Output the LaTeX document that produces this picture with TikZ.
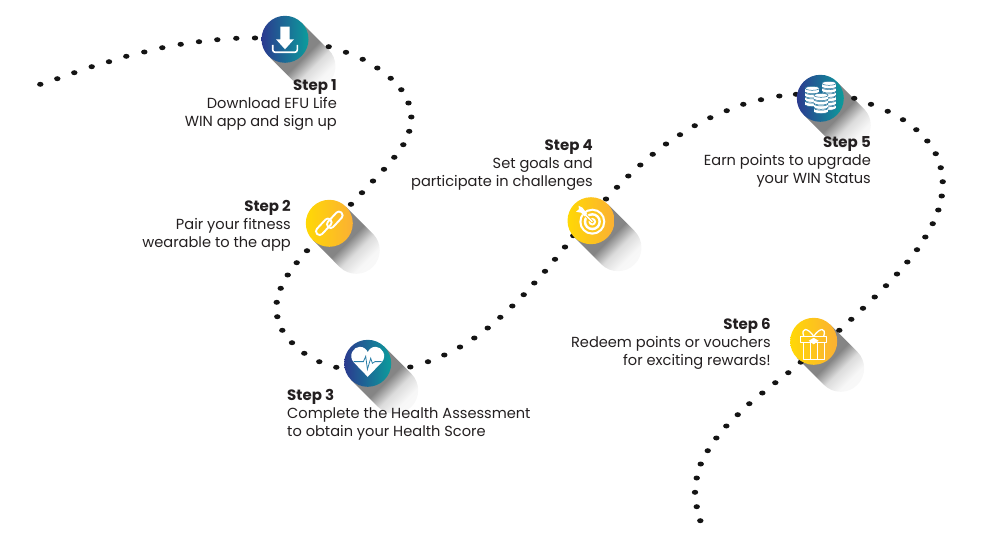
\documentclass[tikz,border=0pt]{standalone}
\usepackage{fontspec}
\setmainfont{Poppins}
\definecolor{inktext}{HTML}{231F20}
\definecolor{blueleft}{HTML}{2B3A8F}
\definecolor{tealright}{HTML}{0C9C9C}
\definecolor{yellowleft}{HTML}{FFD805}
\definecolor{yellowright}{HTML}{FBB034}
\definecolor{yellowmid}{HTML}{FDC61C}
\definecolor{ecgline}{HTML}{2A7FA8}
\definecolor{coinseam}{HTML}{1C6F98}
\pgfdeclareverticalshading{longshadow}{100bp}{color(0bp)=(black!2); color(30bp)=(black!3); color(40bp)=(black!14); color(50bp)=(black!48); color(100bp)=(black!48)}
\newcommand{\stephead}[1]{{\fontsize{15}{18}\selectfont\textbf{#1}}}
\tikzset{
  bluedisc/.style={circle,minimum size=47pt,inner sep=0pt,left color=blueleft,right color=tealright},
  yellowdisc/.style={circle,minimum size=47pt,inner sep=0pt,left color=yellowleft,right color=yellowright},
  steptext/.style={inner sep=0pt,text=inktext,font=\fontsize{14.6}{18}\selectfont},
  icon/.style={white,line width=1.6pt}
}
\begin{document}
\begin{tikzpicture}[x=1pt,y=-1pt]
\useasboundingbox (0,0) rectangle (1000,543);

% long shadows
\foreach \x/\y in {285/39.3,329.3/223.3,367.7/363.3,591/220.7,820.3/98.3,813.7/341.3} {
\shade[shading=longshadow,shading angle=45,draw=none]
  (\x+16.6,\y-16.6) -- (\x+43.6,\y+10.4)
  arc[start angle=45,end angle=-135,radius=23.5pt]
  -- (\x-16.6,\y+16.6) -- cycle;
}

% dotted trail
\foreach \x/\y in {40.3/84.3,57.3/78.7,74.3/72.7,91.7/66.7,109/61.7,126.3/56.3,144.3/52,162.3/47.7,180.7/44.3,199/41.7,217.3/39.7,236.3/38.3,255/38,
328.7/46.7,346/52.3,362.7/59.3,377.3/68,390.7/78.3,401.3/89.7,408.5/103,411.3/117,409.2/131.3,403.3/144.7,394.3/157.3,384/169.3,373/181,362/192.7,351/204.3,
307/250.7,296.7/262.7,287.7/275,280.7/288.3,276.7/302.3,277.3/316.7,282.3/330.3,292/342.7,304.3/353.3,319.3/361.7,336.3/367.3,
410.3/367,428/361.7,444.3/355,460/347,474.3/338,487.7/328,500.3/317.3,512.3/306,523.7/294.7,534.3/283,545/271.3,555/259.3,565/247,573.3/235.7,
606/199,617/187.3,628.3/176,640.3/165,652.7/154.3,666/144,680/134.7,694.7/125.7,710.3/117.7,726.7/110.7,743.3/104.3,761/99.7,779.3/96,796/94.3,
854.2/98.3,871/104.3,887.7/111.3,903/119.7,916.3/129.7,927.3/141,935.7/153.7,940.7/167.7,942.7/181.7,941.7/196,938.3/210,932.7/223.7,925.3/237,917/249.7,907.3/262,897/274,886/285.7,874.7/297,863/308.3,851.3/319.3,839.3/330.3,
800.7/362.2,788.3/372.7,775.3/382.7,762.3/393,749.3/403.7,737.7/414.7,726.3/426,716.3/438,707.7/450.7,700.7/464,696.7/478,695/492.3,696.7/506.7,700.3/520.7} {
\fill[black!92] (\x,\y) ellipse (3.2pt and 2.5pt);
}

\node[bluedisc] (stepone) at (285,39.3) {};
\node[yellowdisc] (steptwo) at (329.3,223.3) {};
\node[bluedisc] (stepthree) at (367.7,363.3) {};
\node[yellowdisc] (stepfour) at (591,220.7) {};
\node[bluedisc] (stepfive) at (820.3,98.3) {};
\node[yellowdisc] (stepsix) at (813.7,341.3) {};

% download
\begin{scope}[shift={(stepone)}]
\fill[white] (-4.7,-12.7) -- (4.7,-12.7) -- (4.7,0) -- (9,0) -- (0,10) -- (-9,0) -- (-4.7,0) -- cycle;
\draw[icon,rounded corners=2.5pt] (-12.3,5.7) -- (-12.3,13) -- (12.3,13) -- (12.3,5.7);
\end{scope}

% chain
\begin{scope}[shift={(steptwo)}]
\foreach \a/\b/\c/\d in {1.5/1/9.5/-8,-9.5/8/-1.5/-1} {
\draw[white,line width=1.9pt,rounded corners=3.4pt] (\c+5.2,\d) -- (\c,\d-5.2) -- (\a-5.2,\b) -- (\a,\b+5.2) -- cycle;
}
\end{scope}

% heart
\begin{scope}[shift={(stepthree)}]
\fill[white] (0,13.5) -- (-14,-1) .. controls (-20,-8) and (-14,-16.5) .. (-8,-16.5) .. controls (-4,-16.5) and (-1,-14) .. (0,-11)
  .. controls (1,-14) and (4,-16.5) .. (8,-16.5) .. controls (14,-16.5) and (20,-8) .. (14,-1) -- cycle;
\draw[ecgline,line width=0.8pt] (-14,-1.7) -- (-4.3,-1.7) -- (-2,-7) -- (-0.3,6) -- (3,-5) -- (4.7,0) -- (7.3,-1.7) -- (14,-1.7);
\end{scope}

% target
\begin{scope}[shift={(stepfour)}]
\fill[white] (1.3,1) circle (13pt);
\fill[yellowmid] (1.3,1) circle (10.8pt);
\fill[white] (1.3,1) circle (8.6pt);
\fill[yellowmid] (1.3,1) circle (6pt);
\fill[white] (1.3,1) circle (3.8pt);
\fill[yellowmid] (1.3,1) circle (1.8pt);
\draw[yellowmid,line width=3pt] (1.3,1) -- (-9,-9.3);
\draw[white,line width=1.3pt] (1.3,1) -- (-9,-9.3);
\fill[white] (-6,-4) -- (-10,-8) -- (-15,-9) -- (-12,-11.5) -- (-12.5,-15) -- (-8.5,-13) -- (-4,-7) -- cycle;
\end{scope}

% coins
\begin{scope}[shift={(stepfive)}]
\foreach \x/\y/\n in {-8/-10/3,8.7/-15/5,0.7/-3/3} {
\foreach \k in {\n,...,0} {
\draw[coinseam,fill=white,line width=0.5pt] (\x,\y+\k*4.3+3.4) ellipse (7pt and 2pt);
\fill[white] (\x-7,\y+\k*4.3) rectangle (\x+7,\y+\k*4.3+3.4);
\draw[coinseam,fill=white,line width=0.5pt] (\x,\y+\k*4.3) ellipse (7pt and 2pt);
}
}
\end{scope}

% gift
\begin{scope}[shift={(stepsix)}]
\draw[icon,line width=1.3pt,line join=round] (-13,-5) -- (13,-5) -- (13,1.5) -- (-13,1.5) -- cycle;
\draw[icon,line width=1.3pt,line join=round] (-10.5,1.5) -- (-10.5,18.5) -- (10.5,18.5) -- (10.5,1.5);
\draw[icon,line width=1.3pt,line join=round] (-3.5,1.5) -- (-3.5,18.5) (3.5,1.5) -- (3.5,18.5);
\fill[white] (0,-3.5) -- (5,-0.5) -- (0,3) -- (-5,-0.5) -- cycle;
\draw[icon,line width=1.3pt,line join=round] (0,-5) .. controls (-6,-14) and (-13,-14) .. (-10,-5);
\draw[icon,line width=1.3pt,line join=round] (0,-5) .. controls (6,-14) and (13,-14) .. (10,-5);
\end{scope}

\node[steptext,align=right,anchor=north east] (labelone) at (337,79) {\stephead{Step 1}\\Download EFU Life\\WIN app and sign up};
\node[steptext,align=right,anchor=north east] (labeltwo) at (291,200.5) {\stephead{Step 2}\\Pair your fitness\\wearable to the app};
\node[steptext,align=left,anchor=north west] (labelthree) at (287,388.7) {\stephead{Step 3}\\Complete the Health Assessment\\to obtain your Health Score};
\node[steptext,align=right,anchor=north east] (labelfour) at (593,139.3) {\stephead{Step 4}\\Set goals and\\participate in challenges};
\node[steptext,align=right,anchor=north east] (labelfive) at (871,136.5) {\stephead{Step 5}\\Earn points to upgrade\\your WIN Status};
\node[steptext,align=right,anchor=north east] (labelsix) at (771,318) {\stephead{Step 6}\\Redeem points or vouchers\\for exciting rewards!};
\end{tikzpicture}
\end{document}
